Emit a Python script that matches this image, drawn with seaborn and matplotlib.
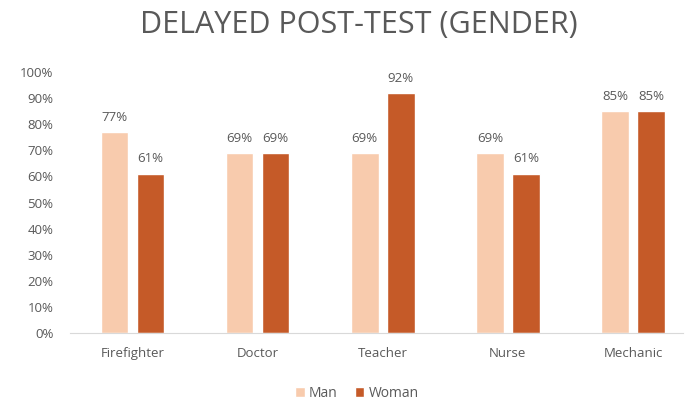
import numpy as np
import pandas as pd
import matplotlib.pyplot as plt
import seaborn as sns
from matplotlib.ticker import PercentFormatter

# podaci s grafa
zanimanja = ['Firefighter', 'Doctor', 'Teacher', 'Nurse', 'Mechanic']
muskarci = [77, 69, 69, 69, 85]
zene = [61, 69, 92, 61, 85]

df = pd.DataFrame({
    'zanimanje': zanimanja * 2,
    'spol': ['Man'] * len(zanimanja) + ['Woman'] * len(zanimanja),
    'postotak': muskarci + zene,
})

sns.set_style('white')
plt.rcParams['font.family'] = ['Open Sans', 'DejaVu Sans']
siva = '#595959'

fig, ax = plt.subplots(figsize=(6.86, 4.03), dpi=100)
fig.subplots_adjust(left=70/686, right=683/686, top=1-72/403, bottom=1-333/403)

sns.barplot(data=df, x='zanimanje', y='postotak', hue='spol',
            palette=['#F8CBAD', '#C55A28'], width=0.576, gap=0.236,
            saturation=1, ax=ax)

for c in ax.containers:
    ax.bar_label(c, fmt='%d%%', padding=6, fontsize=9.5, color=siva)

ax.set_xlim(-0.5, 4.4)
ax.set_ylim(0, 100)
ax.set_yticks(np.arange(0, 101, 10))
ax.yaxis.set_major_formatter(PercentFormatter(decimals=0))
ax.set_xlabel('')
ax.set_ylabel('')
ax.tick_params(axis='both', colors=siva, labelsize=9.5, length=0)
ax.tick_params(axis='x', pad=10)
ax.tick_params(axis='y', pad=12)

for s in ['top', 'right', 'left']:
    ax.spines[s].set_visible(False)
ax.spines['bottom'].set_color('#D9D9D9')

ax.legend(loc='center', bbox_to_anchor=(0.468, -0.23), ncol=2,
          frameon=False, fontsize=10, labelcolor=siva,
          handlelength=0.7, handleheight=0.7, handletextpad=0.3,
          columnspacing=1.2)

fig.suptitle('DELAYED POST-TEST (GENDER)', fontsize=22, color=siva,
             x=0.523, y=0.975)

plt.savefig('out.png', dpi=100)
